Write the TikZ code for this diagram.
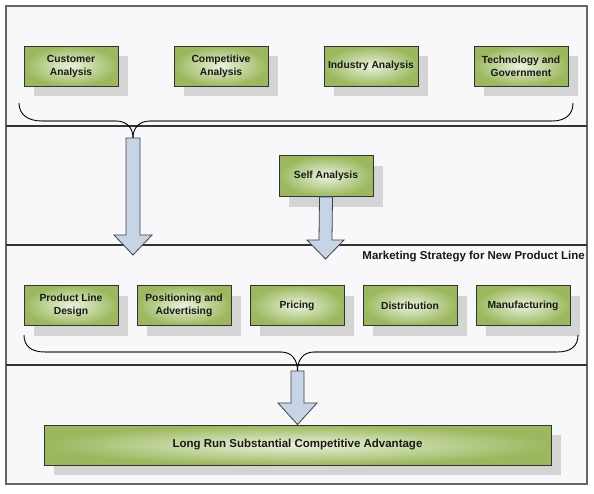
\documentclass[tikz,border=0pt]{standalone}
\usepackage{fontspec}
\setmainfont{Liberation Sans}
\usetikzlibrary{shadows}
\definecolor{frameBg}{HTML}{F8F8FA}
\definecolor{boxIn}{HTML}{EAF2DC}
\definecolor{boxOut}{HTML}{9BB85E}
\definecolor{arrowFill}{HTML}{C6D4E6}
\definecolor{lineDark}{HTML}{333333}
\definecolor{shadowGray}{HTML}{D4D4D4}
\begin{document}
\begin{tikzpicture}[x=1pt,y=-1pt,
  gbox/.style={draw=black!80, line width=0.9pt, inner color=boxIn, outer color=boxOut,
    minimum width=94pt, minimum height=40pt, align=center, inner sep=2pt,
    font=\bfseries\fontsize{10.3}{13}\selectfont, text=black!90,
    general shadow={shadow xshift=10pt, shadow yshift=-10pt, fill=shadowGray, draw=none}},
  blockarrow/.style={draw=black!75, line width=0.8pt, fill=arrowFill, line join=miter},
  bracecurve/.style={draw=black, line width=0.9pt},
  bracestraight/.style={draw=black!55, line width=1.5pt},
  divider/.style={draw=lineDark, line width=1.5pt},
  title/.style={font=\bfseries\fontsize{11.5}{13}\selectfont, text=black!90, inner sep=0pt, anchor=east}
]
\useasboundingbox (0,0) rectangle (594,493);
\fill[white] (0,0) rectangle (594,493);
\draw[fill=frameBg, draw=black!60, line width=1.4pt] (6,6) rectangle (587,484);
\coordinate (dl1) at (6,126);   \coordinate (dr1) at (587,126);
\coordinate (dl2) at (6,245);   \coordinate (dr2) at (587,245);
\coordinate (dl3) at (6,365);   \coordinate (dr3) at (587,365);
\draw[divider] (dl1) -- (dr1);
\draw[divider] (dl2) -- (dr2);
\draw[divider] (dl3) -- (dr3);

% top row
\node[gbox] (cust) at (71,66) {Customer\\Analysis};
\node[gbox] (comp) at (221,66) {Competitive\\Analysis};
\node[gbox] (ind) at (371,66) {Industry Analysis};
\node[gbox] (tech) at (521,66) {Technology and\\Government};

% top brace
\coordinate (b1l) at (19,103);
\coordinate (b1r) at (573,103);
\coordinate (b1p) at (133,138);
\draw[bracecurve] (b1l) .. controls (19,114) and (27,121) .. (42,121);
\draw[bracestraight] (42,121) -- (116,121);
\draw[bracecurve] (116,121) .. controls (127,121) and (133,128) .. (b1p);
\draw[bracecurve] (b1r) .. controls (573,114) and (566,121) .. (552,121);
\draw[bracestraight] (552,121) -- (150,121);
\draw[bracecurve] (150,121) .. controls (139,121) and (133,128) .. (b1p);

% self analysis
\node[gbox, minimum height=41pt] (self) at (326,176) {Self Analysis};

% title of third band
\node[title] (mstitle) at (585,257) {Marketing Strategy for New Product Line};

% middle row
\node[gbox] (pld) at (71,305.5) {Product Line\\Design};
\node[gbox] (pos) at (184,305.5) {Positioning and\\Advertising};
\node[gbox] (pri) at (297,305.5) {Pricing};
\node[gbox] (dis) at (410,305.5) {Distribution};
\node[gbox] (man) at (523,305.5) {Manufacturing};

% bottom brace
\coordinate (b2l) at (24,335);
\coordinate (b2r) at (578,335);
\coordinate (b2p) at (297.5,371);
\draw[bracecurve] (b2l) .. controls (24,346) and (31,352) .. (45,352);
\draw[bracestraight] (45,352) -- (281,352);
\draw[bracecurve] (281,352) .. controls (292,352) and (297.5,360) .. (b2p);
\draw[bracecurve] (b2r) .. controls (578,346) and (571,352) .. (557,352);
\draw[bracestraight] (557,352) -- (314,352);
\draw[bracecurve] (314,352) .. controls (303,352) and (297.5,360) .. (b2p);

% final box
\node[gbox, minimum width=507pt, font=\bfseries\fontsize{11.5}{13}\selectfont] (adv) at (297.5,445) {Long Run Substantial Competitive Advantage};

% block arrows
\draw[blockarrow] (126,138) -- (140,138) -- (140,235) -- (152,235) -- (133,255)
  -- (114,235) -- (126,235) -- cycle;
\draw[blockarrow] ([xshift=-6.5pt]self.south) -- ([xshift=6.5pt]self.south)
  -- (332,240) -- (344,240) -- (325.5,259) -- (307,240) -- (319,240) -- cycle;
\draw[blockarrow] (291,371) -- (304,371) -- (304,403) -- (317,403) -- (adv.north)
  -- (278,403) -- (291,403) -- cycle;
\end{tikzpicture}
\end{document}
